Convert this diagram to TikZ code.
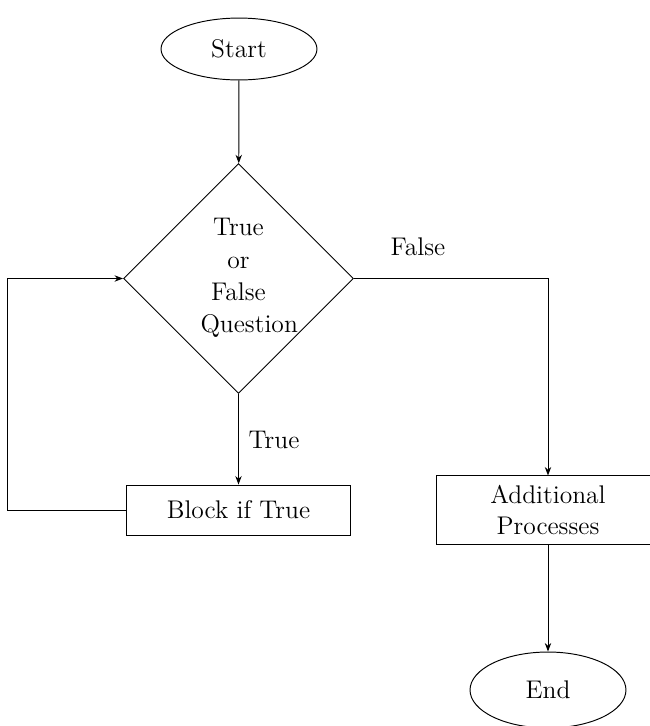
\documentclass[tikz,border=0pt]{standalone}
\usetikzlibrary{shapes.geometric,arrows.meta}
\begin{document}
\begin{tikzpicture}[x=0.47pt,y=-0.47pt,
  font=\fontsize{12}{14.5}\selectfont,
  terminal/.style={ellipse,draw,line width=0.45pt,minimum width=73.3pt,inner sep=0pt},
  process/.style={rectangle,draw,line width=0.45pt,minimum width=105.3pt,align=center},
  decision/.style={diamond,draw,line width=0.45pt,minimum width=108.1pt,minimum height=108.1pt,inner sep=0pt},
  arrow/.style={line width=0.45pt,-{Stealth[length=4pt,width=3pt]}}]
% page frame
\clip (0,0) rectangle (650,726);

% nodes
\node[terminal,minimum height=29.1pt] (start) at (239,49) {Start};
\node[decision] (q) at (238.5,278.5) {};
\node[align=center,text width=35.7pt,inner sep=0pt,
      font=\fontsize{12}{15.2}\selectfont] (qtext) at (238.5,278)
  {True\\or\\False\\\mbox{Question}};
\node[process,minimum height=23.5pt] (block) at (238.5,510) {Block if True};
\node[process,minimum height=32pt] (add) at (548,510) {Additional\\Processes};
\node[terminal,minimum height=35.7pt] (end) at (548,690) {End};

% branch labels
\node (tlabel) at (274,440) {True};
\node (flabel) at (418,247) {False};

% connectors
\coordinate (loop) at (7,510);
\draw[arrow] (start) -- (q);
\draw[arrow] (q) -- (block);
\draw[arrow] (block.west) -- (loop) |- (q.west);
\draw[arrow] (q.east) -| (add.north);
\draw[arrow] (add) -- (end);
\end{tikzpicture}
\end{document}
